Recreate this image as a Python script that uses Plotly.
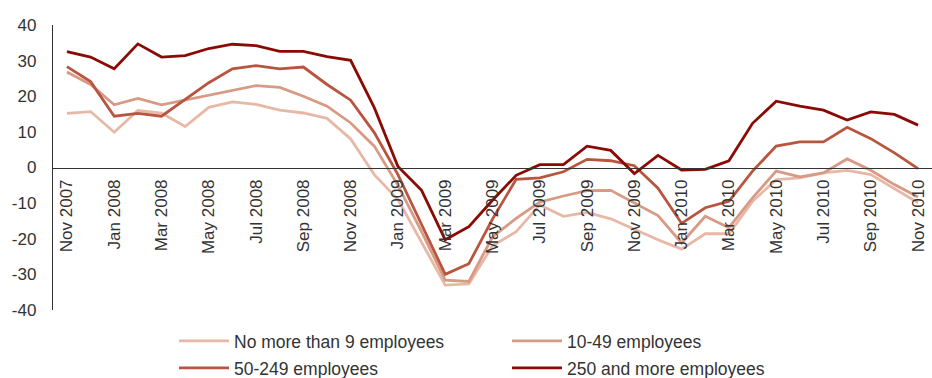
import plotly.graph_objects as go

months = [
    "Nov 2007", "Dec 2007", "Jan 2008", "Feb 2008", "Mar 2008", "Apr 2008", "May 2008",
    "Jun 2008", "Jul 2008", "Aug 2008", "Sep 2008", "Oct 2008", "Nov 2008", "Dec 2008",
    "Jan 2009", "Feb 2009", "Mar 2009", "Apr 2009", "May 2009", "Jun 2009", "Jul 2009",
    "Aug 2009", "Sep 2009", "Oct 2009", "Nov 2009", "Dec 2009", "Jan 2010", "Feb 2010",
    "Mar 2010", "Apr 2010", "May 2010", "Jun 2010", "Jul 2010", "Aug 2010", "Sep 2010",
    "Oct 2010", "Nov 2010",
]
tick_labels = months[::2]
y_tick_values = [-40, -30, -20, -10, 0, 10, 20, 30, 40]
y_tick_labels = ["-40", "-30", "-20", "-10", "0", "10", "20", "30", "40"]

upto9 = [15.2, 15.7, 9.9, 16.0, 15.3, 11.5, 16.9, 18.4, 17.7, 16.1, 15.3, 13.8, 8.0, -2.0,
         -9.0, -21.0, -33.0, -32.7, -22.0, -18.0, -10.5, -13.7, -12.6, -14.4, -17.4, -20.3,
         -22.9, -18.6, -18.6, -9.5, -3.4, -2.9, -1.5, -0.8, -2.0, -6.0, -9.9]
emp10_49 = [26.8, 23.3, 17.6, 19.4, 17.6, 19.0, 20.2, 21.7, 23.0, 22.5, 20.0, 17.2, 12.5, 6.0,
            -5.0, -18.0, -31.6, -32.0, -19.5, -14.3, -9.7, -8.0, -6.5, -6.4, -10.0, -13.5,
            -21.2, -13.7, -16.9, -8.5, -1.0, -2.6, -1.5, 2.4, -0.8, -4.8, -8.3]
emp50_249 = [28.3, 24.1, 14.4, 15.2, 14.4, 19.0, 23.8, 27.7, 28.6, 27.7, 28.2, 23.3, 18.9, 9.8,
             -2.0, -16.0, -30.0, -27.0, -14.5, -3.3, -2.9, -1.2, 2.3, 1.9, 0.5, -5.8,
             -15.7, -11.3, -9.5, -1.0, 6.0, 7.2, 7.2, 11.3, 8.1, 4.1, -0.3]
emp250 = [32.5, 31.0, 27.7, 34.7, 31.0, 31.4, 33.4, 34.6, 34.2, 32.6, 32.6, 31.1, 30.1, 16.8,
          0.3, -6.4, -20.3, -16.6, -9.2, -2.2, 0.8, 0.8, 6.0, 4.8, -1.7, 3.4,
          -0.7, -0.5, 1.9, 12.4, 18.6, 17.2, 16.1, 13.3, 15.6, 14.9, 11.9]

series_names = ["No more than 9 employees", "10-49 employees", "50-249 employees",
                "250 and more employees"]
series_values = [upto9, emp10_49, emp50_249, emp250]
colors = ["#e8b8a6", "#d89a84", "#b9553f", "#8c0a04"]
legend_ids = ["legend", "legend2", "legend3", "legend4"]

TXT = "#333333"
FONT = "Liberation Sans, Arial, sans-serif"
fig = go.Figure()
for name, vals, col, lg in zip(series_names, series_values, colors, legend_ids):
    fig.add_trace(go.Scatter(x=months, y=vals, mode="lines", name=name,
                             line=dict(color=col, width=2.8), legend=lg))

def leg(x, y):
    return dict(xref="container", yref="container", x=x, y=y, xanchor="left",
                yanchor="middle", orientation="h", itemwidth=50,
                font=dict(family=FONT, size=17.5, color=TXT),
                bgcolor="rgba(0,0,0,0)", borderwidth=0)

fig.update_layout(
    width=932, height=378,
    margin=dict(l=53, r=0, t=25, b=68),
    paper_bgcolor="white", plot_bgcolor="white",
    font=dict(family=FONT, size=17, color=TXT),
    showlegend=True,
    legend=leg(174 / 932, 1 - 341 / 378),
    legend2=leg(507 / 932, 1 - 341 / 378),
    legend3=leg(174 / 932, 1 - 368 / 378),
    legend4=leg(507 / 932, 1 - 368 / 378),
    xaxis=dict(type="category", range=[-0.59, 36.59], anchor="free", position=0.5,
               showline=True, linecolor=TXT, linewidth=1.3, showgrid=False, zeroline=False,
               tickmode="array", tickvals=tick_labels, ticktext=tick_labels, tickangle=-90,
               ticks="", ticklabelstandoff=4, automargin=False,
               tickfont=dict(size=17, color=TXT)),
    yaxis=dict(range=[-40, 40], tickmode="array", tickvals=y_tick_values,
               ticktext=y_tick_labels, showline=True, linecolor=TXT,
               linewidth=1.3, showgrid=False, zeroline=False, ticks="",
               ticklabelstandoff=12, automargin=False, tickfont=dict(size=17, color=TXT)),
)

fig.write_html("out.html")
